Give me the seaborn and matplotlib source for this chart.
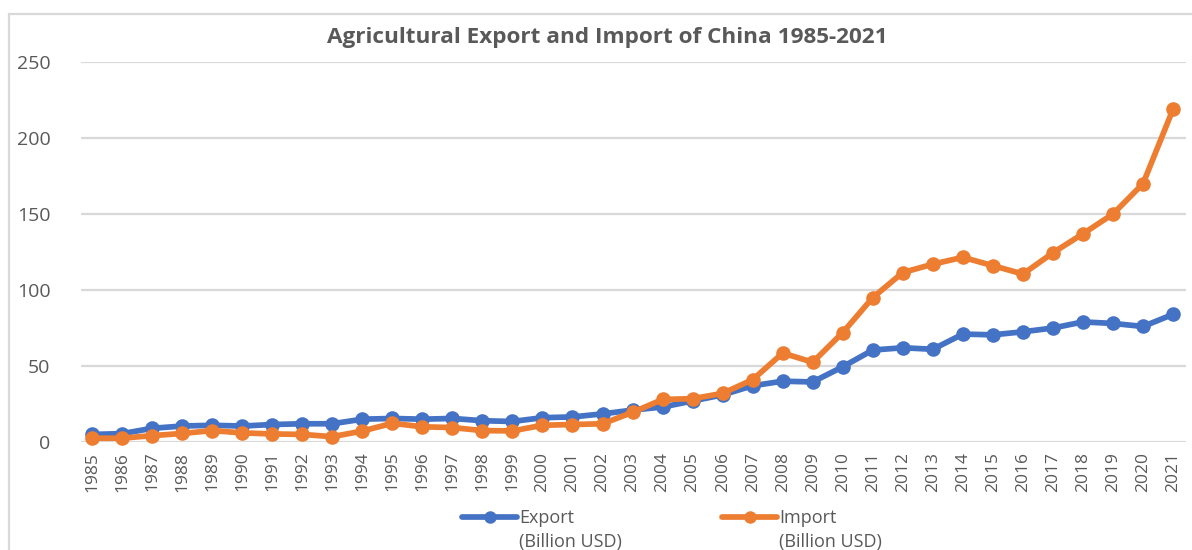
import matplotlib
matplotlib.use("Agg")
import matplotlib.pyplot as plt
from matplotlib.lines import Line2D
import seaborn as sns
import pandas as pd

# Agricultural trade of China, billion USD
years = list(range(1985, 2022))
export_vals = [5, 5.5, 9, 10.5, 11, 10.5, 11.5, 12, 12, 15, 15.5, 15, 15.5, 14, 13.5,
               16, 16.5, 18.5, 21, 23, 27, 31, 37, 40, 39.5, 49.5, 60.5, 62, 61,
               71, 70.5, 72.5, 75, 79, 78, 76, 84]
import_vals = [2.5, 2.5, 4.2, 5.6, 7.5, 6, 5.3, 5, 3.5, 7.2, 12.3, 10, 9.5, 7.5, 7.3,
               11, 11.5, 12, 19.5, 28, 28.5, 32, 41, 58.5, 52.5, 72, 95, 111.5, 117,
               121.5, 116, 110.5, 124.5, 137, 150, 170, 219]
series_names = ["Export", "Import"]
unit_label = "(Billion USD)"
title = "Agricultural Export and Import of China 1985-2021"
y_ticks = [0, 50, 100, 150, 200, 250]

BLUE = "#4472C4"
ORANGE = "#ED7D31"
TEXT = "#595959"
GRID = "#D9D9D9"

sns.set_theme(style="white")
plt.rcParams["font.family"] = ["Open Sans", "DejaVu Sans"]

pos = list(range(len(years)))
df = pd.DataFrame({
    "pos": pos * 2,
    "value": export_vals + import_vals,
    "series": [series_names[0]] * len(years) + [series_names[1]] * len(years),
})

W, H = 1192, 550
fig = plt.figure(figsize=(W / 100, H / 100), dpi=100)
ax = fig.add_axes([81 / W, (H - 442) / H, (1186 - 81) / W, (442 - 62) / H])

sns.lineplot(data=df, x="pos", y="value", hue="series",
             palette={series_names[0]: BLUE, series_names[1]: ORANGE},
             marker="o", markersize=10.5, markeredgewidth=0, linewidth=4.1,
             legend=False, ax=ax, clip_on=False, zorder=3)

ax.set_xlim(-0.366, 36.43)
ax.set_ylim(0, 250)
ax.set_yticks(y_ticks)
ax.set_yticklabels([str(t) for t in y_ticks], fontsize=14, color=TEXT)
ax.set_xticks(pos)
ax.set_xticklabels([str(y) for y in years], rotation=90, fontsize=12.5, color=TEXT)
ax.tick_params(axis="both", length=0)
ax.tick_params(axis="y", pad=22)
ax.tick_params(axis="x", pad=7)
ax.set_xlabel("")
ax.set_ylabel("")
for s in ax.spines.values():
    s.set_visible(False)
ax.yaxis.grid(True, color=GRID, linewidth=1.6, zorder=0)
ax.xaxis.grid(False)
ax.set_axisbelow(True)

fig.text(607 / W, 1 - 37 / H, title, ha="center", va="center",
         fontsize=16.2, fontweight="bold", color=TEXT)

# legend along the bottom: one entry per series, each with a unit line below
fig.canvas.draw()
for name, color, x0 in zip(series_names, (BLUE, ORANGE), (462, 722)):
    handle = Line2D([], [], color=color, linewidth=4.1, marker="o", markersize=9,
                    markeredgewidth=0)
    leg = fig.legend([handle], [name], loc="center left",
                     bbox_to_anchor=(x0 / W, 1 - 518 / H), frameon=False,
                     fontsize=13, handlelength=3.05, handletextpad=0.12,
                     borderpad=0, borderaxespad=0)
    leg.get_texts()[0].set_color(TEXT)
    fig.canvas.draw()
    bb = leg.get_texts()[0].get_window_extent()
    fig.text(bb.x0 / W, 1 - 533 / H, unit_label, ha="left", va="top",
             fontsize=13, color=TEXT)

# chart frame edges
fig.add_artist(Line2D([9 / W, 1.0], [1 - 14 / H, 1 - 14 / H], color=GRID, linewidth=1.6))
fig.add_artist(Line2D([9 / W, 9 / W], [0.0, 1 - 14 / H], color=GRID, linewidth=1.6))

fig.savefig("out.png", dpi=100)
